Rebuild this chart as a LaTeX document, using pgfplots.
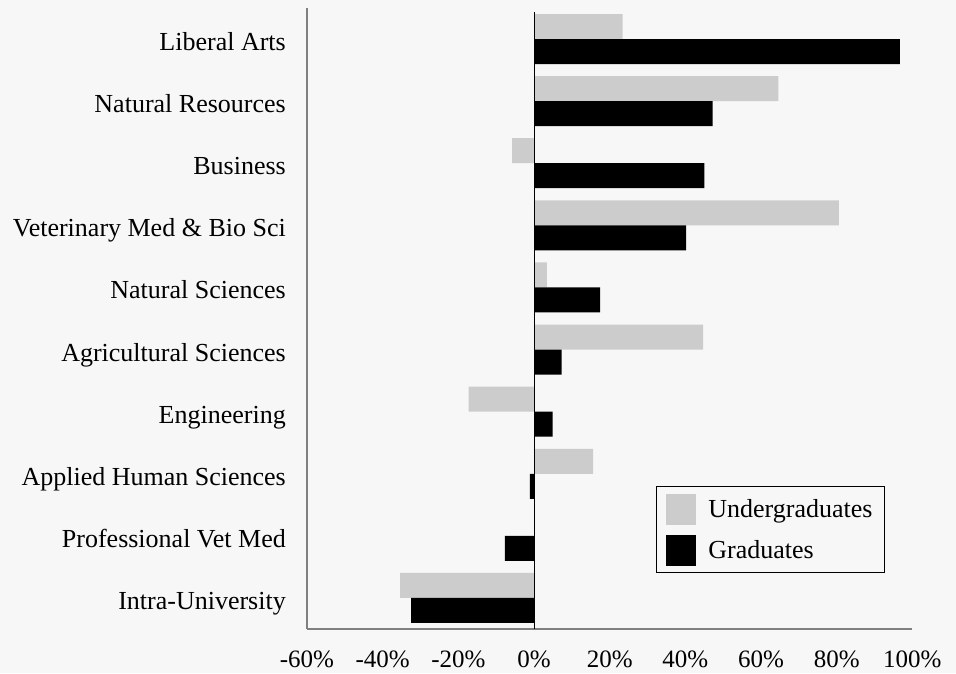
\documentclass[border=0pt]{standalone}
\usepackage{fontspec}
\setmainfont{Liberation Serif}
\usepackage{pgfplots}
\usepackage{pgfplotstable}
\pgfplotsset{compat=1.18}
\definecolor{bgcol}{HTML}{F7F7F7}
\definecolor{ugray}{HTML}{CCCCCC}
\definecolor{axgray}{HTML}{808080}

% change by college, rows bottom (0) to top (9)
\pgfplotstableread{
idx under grad
0  -35.4 -32.5
1    0.0  -7.7
2   15.6  -1.1
3  -17.3   4.9
4   44.7   7.3
5    3.4  17.5
6   80.6  40.2
7   -5.8  45.0
8   64.6  47.2
9   23.4  96.7
}\colleges

\begin{document}
\begin{tikzpicture}
\fill[bgcol] (-307pt,-44pt) rectangle (649pt,629pt);
\begin{axis}[
    at={(0pt,0pt)}, anchor=south west,
    scale only axis, width=605.4pt, height=621pt,
    xmin=-60, xmax=100, ymin=-0.5, ymax=9.5,
    axis x line*=bottom, axis y line*=left,
    axis line style={axgray, line width=1.2pt, -},
    xtick={-60,-40,...,100},
    xticklabels={-60\%,-40\%,-20\%,0\%,20\%,40\%,60\%,80\%,100\%},
    ytick={0,...,9},
    yticklabels={Intra-University, Professional Vet Med, Applied Human Sciences,
        Engineering, Agricultural Sciences, Natural Sciences,
        Veterinary Med \& Bio Sci, Business, Natural Resources, Liberal Arts},
    major tick length=0pt,
    xticklabel style={font=\fontsize{25}{30}\selectfont, anchor=base,
        inner sep=0pt, yshift=-38pt},
    yticklabel style={font=\fontsize{26}{30}\selectfont, anchor=base east,
        inner sep=0pt, xshift=-21pt, yshift=-11.5pt},
    xbar, bar width=25pt,
    legend cell align=left,
    legend image code/.code={\fill[#1] (0pt,-15.5pt) rectangle (30pt,15.5pt);},
    legend style={at={(0.5765,0.090)}, anchor=south west, draw=black,
        fill=bgcol, line width=0.8pt, font=\fontsize{26}{30}\selectfont,
        inner xsep=10pt, inner ysep=7pt, row sep=10pt,
        nodes={inner sep=2pt},
        /tikz/every odd column/.append style={column sep=10pt}},
]
\addplot[fill=ugray, draw=none, bar shift=12.5pt] table[x=under, y=idx] {\colleges};
\addlegendentry{Undergraduates}
\addplot[fill=black, draw=none, bar shift=-12.5pt] table[x=grad, y=idx] {\colleges};
\addlegendentry{Graduates}
\draw[black, line width=0.8pt] (axis cs:0,-0.5) -- (axis cs:0,9.44);
\end{axis}
\end{tikzpicture}
\end{document}
